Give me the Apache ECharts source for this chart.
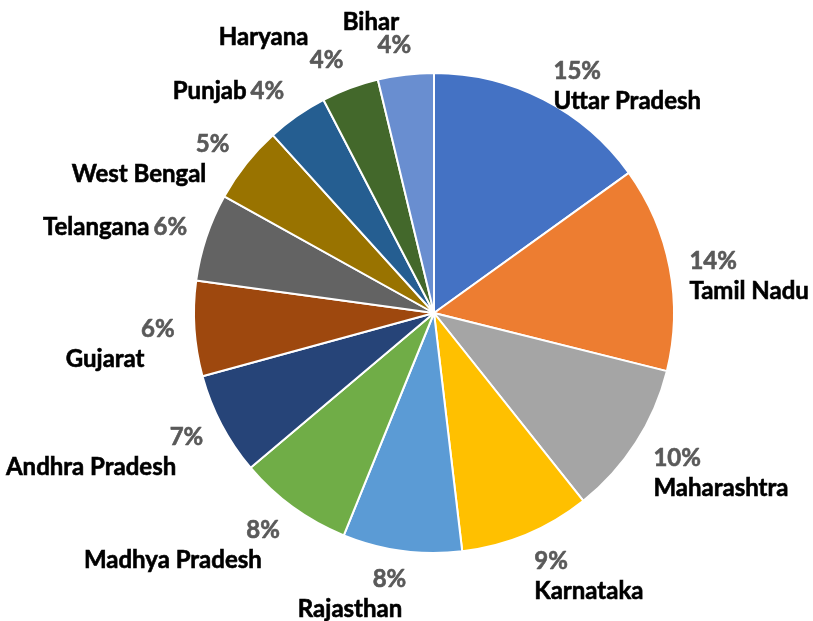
<!DOCTYPE html>
<html>
<head>
<meta charset="utf-8">
<script src="https://cdn.jsdelivr.net/npm/echarts@6/dist/echarts.min.js"></script>
<style>
  html, body { margin: 0; padding: 0; background: #fff; }
  #chart { width: 813px; height: 621px; }
</style>
</head>
<body>
<div id="chart"></div>
<script>
// shares (percent of total)
const states = ['Uttar Pradesh', 'Tamil Nadu', 'Maharashtra', 'Karnataka', 'Rajasthan',
  'Madhya Pradesh', 'Andhra Pradesh', 'Gujarat', 'Telangana', 'West Bengal',
  'Punjab', 'Haryana', 'Bihar'];
const shares = [15.05, 13.8, 10.4, 8.8, 8.0, 7.7, 6.9, 6.4, 5.9, 5.2, 4.1, 3.85, 3.75];
const colors = ['#4472C4', '#ED7D31', '#A5A5A5', '#FFC000', '#5B9BD5', '#70AD47',
  '#264478', '#9E480E', '#636363', '#997300', '#255E91', '#43682B', '#698ED0'];

const FONT = 'Lato, "Open Sans", sans-serif';

// mid angle of every slice, degrees clockwise from 12 o'clock
const total = shares.reduce((a, b) => a + b, 0);
let acc = 0;
const midAngles = shares.map(v => {
  const m = (acc + v / 2) / total * 360;
  acc += v;
  return m;
});

// how name and percent sit relative to each other, by angle band
//  below  : percent on top, name under it (left aligned)
//  belowL : percent on top, name under it (right aligned)
//  inline : name then percent on one line
//  above  : name on top, percent under it
const bands = [[180, 'below'], [280, 'belowL'], [300, 'inline'], [320, 'belowL'], [335, 'inline'], [360, 'above']];
function mode(a) {
  for (const [end, m] of bands) if (a < end) return m;
  return 'above';
}

const txt = { fontFamily: FONT, fontWeight: 'bold', fontSize: 24, lineHeight: 30, textBorderWidth: 0.6 };
const rich = {
  p: { ...txt, color: '#595959', textBorderColor: '#595959' }
};
midAngles.forEach((a, i) => {
  const sx = Math.abs(Math.sin(a * Math.PI / 180));
  const m = mode(a);
  let pad = 0;
  if (m === 'belowL') pad = Math.round(30 * sx);
  if (m === 'above') pad = Math.round(100 * sx);
  if (m === 'inline') pad = 4;
  rich['n' + i] = {
    ...txt, color: '#000', textBorderColor: '#000',
    lineHeight: m === 'above' ? 16 : 30,
    padding: [0, pad, 0, 0]
  };
});

const chart = echarts.init(document.getElementById('chart'), null, { renderer: 'canvas' });

chart.setOption({
  animation: false,
  backgroundColor: '#fff',
  series: [{
    type: 'pie',
    center: [434, 313],
    radius: 240,
    startAngle: 90,
    clockwise: true,
    avoidLabelOverlap: false,
    itemStyle: { borderColor: '#fff', borderWidth: 2 },
    labelLine: { show: false, length: 15, length2: 0 },
    label: {
      show: true,
      position: 'outside',
      formatter: (params) => {
        const i = params.dataIndex;
        const pct = Math.round(params.percent) + '%';
        const m = mode(midAngles[i]);
        const n = '{n' + i + '|' + states[i] + '}';
        if (m === 'inline') return n + '{p|' + pct + '}';
        if (m === 'above') return n + '\n{p|' + pct + '}';
        return '{p|' + pct + '}\n' + n;
      },
      rich
    },
    labelLayout: (params) => {
      const a = midAngles[params.dataIndex] * Math.PI / 180;
      const dirY = -Math.cos(a);
      const sx = Math.sin(a);
      const m = mode(midAngles[params.dataIndex]);
      let dy = dirY * 15;
      if (m === 'below' || m === 'belowL') dy += 14;
      if (m === 'above') dy -= 8;
      // labels near 12 / 6 o'clock drift toward the vertical axis
      const dx = -Math.sign(sx) * 20 * Math.pow(1 - Math.abs(sx), 4);
      return { dx, dy };
    },
    data: states.map((name, i) => ({
      name,
      value: shares[i],
      itemStyle: { color: colors[i] }
    }))
  }]
});
</script>
</body>
</html>
